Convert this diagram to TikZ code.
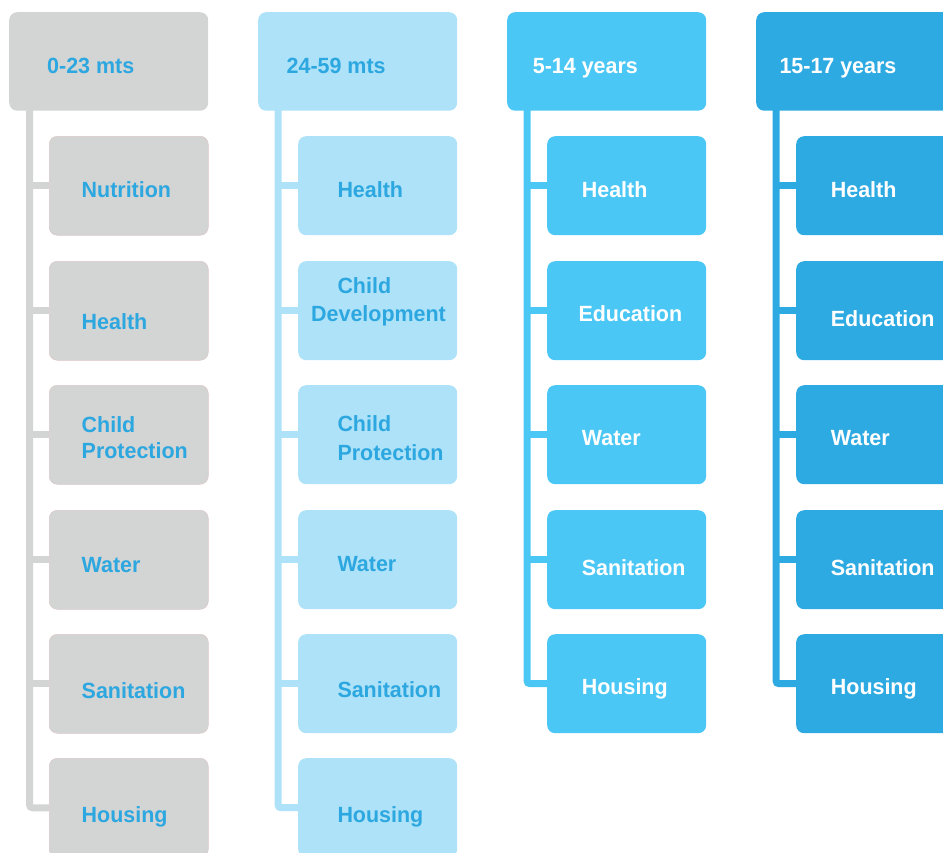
\documentclass[tikz,border=0pt]{standalone}
\usepackage{fontspec}
\setmainfont[FakeStretch=0.975]{Liberation Sans}
\usetikzlibrary{backgrounds}
\definecolor{cgray}{HTML}{D3D4D4}
\definecolor{clight}{HTML}{AEE2F8}
\definecolor{cmid}{HTML}{4BC7F5}
\definecolor{cdark}{HTML}{2EAAE2}
\definecolor{tblue}{HTML}{2CA7E0}
\definecolor{pinkedge}{HTML}{DCC8C8}
\begin{document}
\begin{tikzpicture}[x=1pt,y=-1pt,
  box/.style={rectangle, rounded corners=8pt, minimum width=159pt, minimum height=99pt, anchor=north west, inner sep=0pt},
  head/.style={box, minimum width=199pt, minimum height=98.5pt},
  lbl/.style={anchor=base west, inner sep=0pt, font=\fontsize{22}{26}\selectfont\bfseries},
  trunk/.style={line width=7pt, rounded corners=3pt},
  branch/.style={line width=7pt}
]
\useasboundingbox (0,0) rectangle (943,852);
\clip (0,0) rectangle (943,852);

% ---------- column 1 : 0-23 mts ----------
\node[head, fill=cgray] (h1) at (9,12) {};
\node[lbl, text=tblue] (h1t) at (47,73.4) {0-23 mts};
\node[box, fill=cgray, draw=pinkedge, line width=0.5pt] (a1) at (49,136) {};
\node[box, fill=cgray, draw=pinkedge, line width=0.5pt] (a2) at (49,261) {};
\node[box, fill=cgray, draw=pinkedge, line width=0.5pt] (a3) at (49,385) {};
\node[box, fill=cgray, draw=pinkedge, line width=0.5pt] (a4) at (49,510) {};
\node[box, fill=cgray, draw=pinkedge, line width=0.5pt] (a5) at (49,634) {};
\node[box, fill=cgray, draw=pinkedge, line width=0.5pt] (a6) at (49,758) {};
\node[lbl, text=tblue] (a1t) at (81.5,197.7) {Nutrition};
\node[lbl, text=tblue] (a2t) at (81.5,329.3) {Health};
\node[lbl, text=tblue] (a3t) at (81.5,432.3) {Child};
\node[lbl, text=tblue] (a3u) at (81.5,458.3) {Protection};
\node[lbl, text=tblue] (a4t) at (81.5,572.3) {Water};
\node[lbl, text=tblue] (a5t) at (81.5,698.3) {Sanitation};
\node[lbl, text=tblue] (a6t) at (81.5,822.7) {Housing};
\coordinate (s1) at (29.5,110);

% ---------- column 2 : 24-59 mts ----------
\node[head, fill=clight] (h2) at (258,12) {};
\node[lbl, text=tblue] (h2t) at (286.5,73.4) {24-59 mts};
\node[box, fill=clight] (b1) at (298,136) {};
\node[box, fill=clight] (b2) at (298,261) {};
\node[box, fill=clight] (b3) at (298,385) {};
\node[box, fill=clight] (b4) at (298,510) {};
\node[box, fill=clight] (b5) at (298,634) {};
\node[box, fill=clight] (b6) at (298,758) {};
\node[lbl, text=tblue] (b1t) at (337.3,197.7) {Health};
\node[lbl, text=tblue] (b2t) at (337.3,293.3) {Child};
\node[lbl, text=tblue] (b2u) at (311,321.7) {Development};
\node[lbl, text=tblue] (b3t) at (337.3,431.7) {Child};
\node[lbl, text=tblue] (b3u) at (337.3,460.7) {Protection};
\node[lbl, text=tblue] (b4t) at (337.3,571.7) {Water};
\node[lbl, text=tblue] (b5t) at (337.3,697.7) {Sanitation};
\node[lbl, text=tblue] (b6t) at (337.3,822.7) {Housing};
\coordinate (s2) at (278,110);

% ---------- column 3 : 5-14 years ----------
\node[head, fill=cmid] (h3) at (507,12) {};
\node[lbl, text=white] (h3t) at (532.7,73.4) {5-14 years};
\node[box, fill=cmid] (c1) at (547,136) {};
\node[box, fill=cmid] (c2) at (547,261) {};
\node[box, fill=cmid] (c3) at (547,385) {};
\node[box, fill=cmid] (c4) at (547,510) {};
\node[box, fill=cmid] (c5) at (547,634) {};
\node[lbl, text=white] (c1t) at (581.7,197.7) {Health};
\node[lbl, text=white] (c2t) at (578.3,321.7) {Education};
\node[lbl, text=white] (c3t) at (581.7,445.7) {Water};
\node[lbl, text=white] (c4t) at (581.7,575) {Sanitation};
\node[lbl, text=white] (c5t) at (581.7,694) {Housing};
\coordinate (s3) at (527,110);

% ---------- column 4 : 15-17 years ----------
\node[head, fill=cdark] (h4) at (756,12) {};
\node[lbl, text=white] (h4t) at (779.3,73.4) {15-17 years};
\node[box, fill=cdark] (d1) at (796,136) {};
\node[box, fill=cdark] (d2) at (796,261) {};
\node[box, fill=cdark] (d3) at (796,385) {};
\node[box, fill=cdark] (d4) at (796,510) {};
\node[box, fill=cdark] (d5) at (796,634) {};
\node[lbl, text=white] (d1t) at (830.7,197.7) {Health};
\node[lbl, text=white] (d2t) at (830.7,326) {Education};
\node[lbl, text=white] (d3t) at (830.7,445.7) {Water};
\node[lbl, text=white] (d4t) at (830.7,575) {Sanitation};
\node[lbl, text=white] (d5t) at (830.7,694) {Housing};
\coordinate (s4) at (776,110);

% ---------- connectors ----------
\begin{scope}[on background layer]
  \draw[trunk, cgray] (s1) |- (a6.west);
  \foreach \n in {a1,a2,a3,a4,a5} \draw[branch, cgray] (s1 |- \n.west) -- (\n.west);
  \draw[trunk, clight] (s2) |- (b6.west);
  \foreach \n in {b1,b2,b3,b4,b5} \draw[branch, clight] (s2 |- \n.west) -- (\n.west);
  \draw[trunk, cmid] (s3) |- (c5.west);
  \foreach \n in {c1,c2,c3,c4} \draw[branch, cmid] (s3 |- \n.west) -- (\n.west);
  \draw[trunk, cdark] (s4) |- (d5.west);
  \foreach \n in {d1,d2,d3,d4} \draw[branch, cdark] (s4 |- \n.west) -- (\n.west);
\end{scope}
\end{tikzpicture}
\end{document}
